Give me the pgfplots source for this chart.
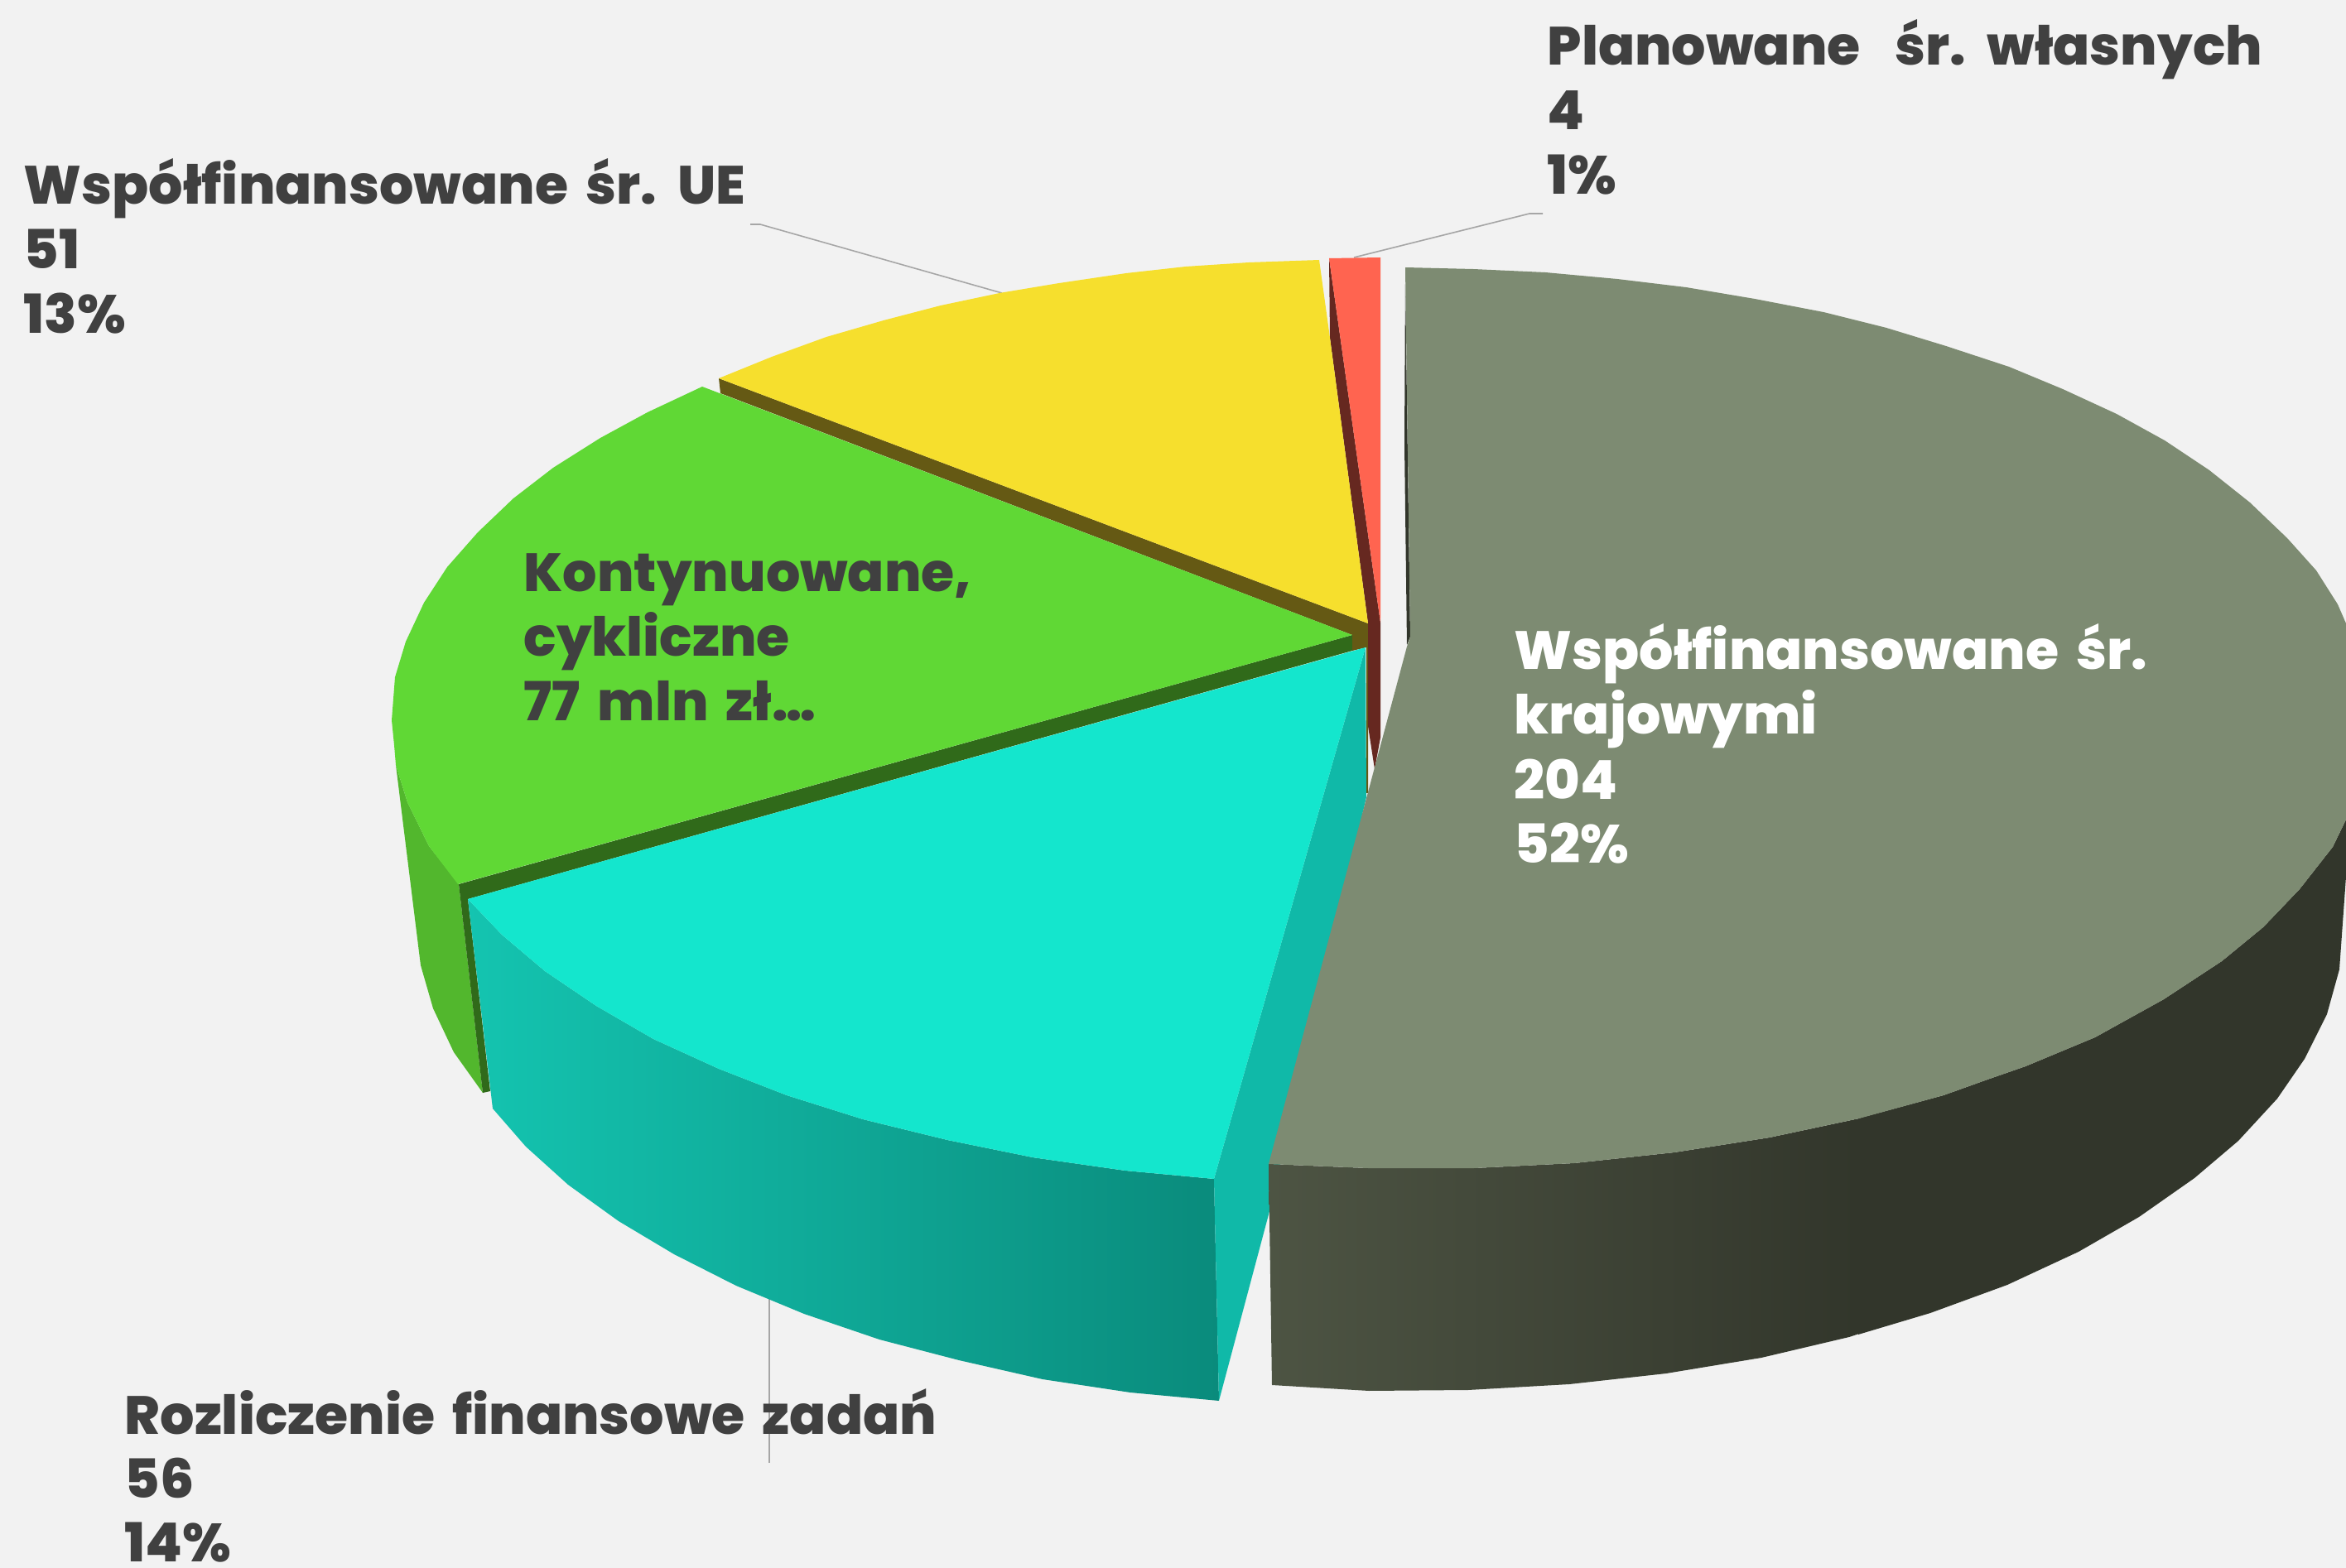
\documentclass[border=0pt]{standalone}
\usepackage{fontspec}
\setmainfont{Poppins}[BoldFont={Poppins ExtraBold},BoldFeatures={WordSpace=1.7}]
\usepackage{pgfplots}
\pgfplotsset{compat=1.18}
\definecolor{bg}{HTML}{F2F2F2}
\definecolor{txt}{HTML}{404040}
\definecolor{lead}{HTML}{A6A6A6}
\definecolor{greytop}{HTML}{7D8B72}
\definecolor{greydark}{HTML}{32362B}
\definecolor{greymid}{HTML}{4D5443}
\definecolor{cyantop}{HTML}{14E6CD}
\definecolor{cyanin}{HTML}{10B9A8}
\definecolor{cyanl}{HTML}{14C4B0}
\definecolor{cyanm}{HTML}{0FAE9C}
\definecolor{cyanr}{HTML}{0A8B7C}
\definecolor{greentop}{HTML}{60D835}
\definecolor{greenside}{HTML}{52B72D}
\definecolor{greenband}{HTML}{306A1A}
\definecolor{yellowtop}{HTML}{F6DF2D}
\definecolor{olive}{HTML}{655914}
\definecolor{redtop}{HTML}{FF6450}
\definecolor{reddark}{HTML}{662820}
\newcommand{\lbl}[4][txt]{\node[anchor=base west,inner sep=0pt,text=#1,font=\fontsize{18.5pt}{22pt}\selectfont\bfseries] at (axis cs:#2,#3) {#4};}
\begin{document}
\begin{tikzpicture}
\begin{axis}[
  scale only axis, width=28.33cm, height=18.94cm,
  xmin=0, xmax=2833, ymin=0, ymax=1894, y dir=reverse,
  hide axis, clip=true,
  every axis plot/.append style={draw=none, forget plot, mark=none}
]
% background
\addplot[fill=bg] coordinates {(0,0)(2833,0)(2833,1894)(0,1894)} --cycle;
% leaders
\addplot[draw=lead, line width=0.45pt] coordinates {(906,271)(918,271)(1210,354)};
\addplot[draw=lead, line width=0.45pt] coordinates {(1635,311)(1847,258)(1863,258)};
\addplot[draw=lead, line width=0.45pt] coordinates {(929,1560)(929,1767)};
% green outer side and band
\addplot[fill=greenside] coordinates {(478,924)(508,1166)(523,1218)(548,1271)(583,1320)(554,1068)(518,1022)(492,969)} --cycle;
\addplot[fill=greenband] coordinates {(554,1068)(583,1320)(592,1318)(565,1086)(1633,786)(1633,767)} --cycle;
% olive wall of the yellow slice
\addplot[fill=olive] coordinates {(868,457)(1652,753)(1652,958)(1650,958)(1650,782)(1633,786)(1633,767)(870,475)} --cycle;
% dark red wall
\addplot[fill=reddark] coordinates {(1605,312)(1606,408)(1652,753)(1652,877)(1660,929)(1667,891)(1667,752)} --cycle;
% cyan outer side
\addplot[left color=cyanl, middle color=cyanm, right color=cyanr] coordinates {(565,1086)(595,1339)(635,1385)(686,1431)(747,1475)(814,1515)(889,1553)(971,1587)(1062,1618)(1158,1643)(1259,1666)(1365,1682)(1472,1692)(1466,1424)(1359,1414)(1247,1398)(1144,1377)(1042,1352)(950,1323)(868,1291)(789,1255)(720,1215)(658,1173)(606,1129)} --cycle;
% cyan inner wall
\addplot[fill=cyanin] coordinates {(1649,782)(1466,1424)(1472,1692)(1532,1467)(1650,963)} --cycle;
% grey outer side
\addplot[left color=greymid, right color=greydark] coordinates {(1532,1406)(1536,1673)(1653,1680)(1773,1679)(1895,1672)(2012,1659)(2127,1640)(2233,1615)(2245,1611)(2245,1351)(2137,1374)(2022,1392)(1901,1405)(1780,1411)(1652,1411)} --cycle;
\addplot[fill=greydark] coordinates {(2244,1351)(2347,1323)(2400,1304)(2446,1288)(2530,1253)(2613,1207)(2683,1161)(2733,1120)(2777,1074)(2817,1023)(2833,990)(2833,1059)(2825,1171)(2810,1225)(2783,1279)(2750,1327)(2703,1378)(2650,1423)(2583,1470)(2510,1512)(2424,1552)(2331,1586)(2244,1612)} --cycle;
\addplot[fill=greydark] coordinates {(1697,341)(1696,537)(1699,779)(1703,769)} --cycle;
% top faces
\addplot[fill=greytop] coordinates {(1697,323)(1779,325)(1866,329)(1953,337)(2036,347)(2119,361)(2202,377)(2278,396)(2350,418)(2426,443)(2491,470)(2556,500)(2614,532)(2668,568)(2717,607)(2762,650)(2797,689)(2823,730)(2833,753)(2833,990)(2817,1023)(2777,1074)(2733,1120)(2683,1161)(2613,1207)(2530,1253)(2446,1288)(2400,1304)(2347,1323)(2245,1351)(2137,1374)(2022,1392)(1901,1405)(1780,1411)(1652,1411)(1532,1406)(1699,781)(1703,769)} --cycle;
\addplot[fill=cyantop] coordinates {(565,1086)(1649,782)(1466,1424)(1359,1414)(1247,1398)(1144,1377)(1042,1352)(950,1323)(868,1291)(789,1255)(720,1215)(658,1173)(606,1129)} --cycle;
\addplot[fill=greentop] coordinates {(848,467)(782,498)(725,529)(668,565)(620,602)(577,643)(540,685)(512,728)(490,775)(477,818)(473,870)(476,900)(478,924)(492,969)(518,1022)(553,1068)(1633,767)} --cycle;
\addplot[fill=yellowtop] coordinates {(868,457)(932,431)(998,407)(1067,387)(1136,369)(1207,354)(1279,342)(1360,330)(1432,322)(1508,317)(1593,314)(1606,408)(1652,753)} --cycle;
\addplot[fill=redtop] coordinates {(1605,312)(1667,311)(1667,752)} --cycle;
% labels
\lbl{1868}{79}{Planowane\ \ śr. własnych}
\lbl{1868}{157}{4}
\lbl{1868}{235}{1\%}
\lbl{28}{247}{Współfinansowane śr. UE}
\lbl{28}{325}{51}
\lbl{28}{403}{13\%}
\lbl{632}{715}{Kontynuowane,}
\lbl{632}{793}{cykliczne}
\lbl{632}{871}{77 mln zł…}
\lbl[white]{1828}{809}{Współfinansowane śr.}
\lbl[white]{1828}{887}{krajowymi}
\lbl[white]{1828}{965}{204}
\lbl[white]{1828}{1043}{52\%}
\lbl{150}{1732}{Rozliczenie finansowe zadań}
\lbl{150}{1809}{56}
\lbl{150}{1886}{14\%}
\end{axis}
\end{tikzpicture}
\end{document}
